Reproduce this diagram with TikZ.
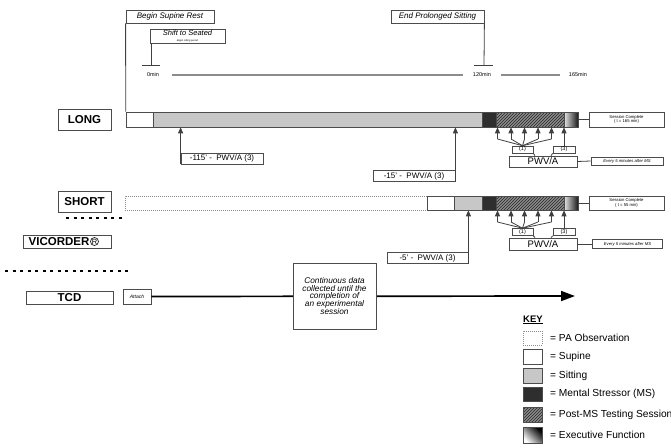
\documentclass[tikz,border=0pt]{standalone}
\usepackage{fontspec}
\setmainfont{Liberation Sans}
\usetikzlibrary{arrows.meta,patterns,shadings}
\newcommand\fsz[1]{\fontsize{#1}{#1}\selectfont}
\begin{document}
\begin{tikzpicture}[x=1pt,y=-1pt,
  bx/.style={draw=black!70, line width=0.8pt, fill=white, inner sep=0pt, align=center},
  lbl/.style={bx, font=\bfseries\fsz{11.5}},
  ital/.style={bx, font=\itshape\fsz{8}},
  pbox/.style={bx, font=\fsz{8}},
  tiny/.style={bx, line width=0.6pt, font=\fsz{4.2}},
  seg/.style={draw=black!70, line width=0.6pt, inner sep=0pt},
  supine/.style={seg, fill=white},
  sitting/.style={seg, fill=black!22},
  mstr/.style={seg, fill=black!82},
  post/.style={seg, preaction={fill=black!45}, pattern=north east lines, pattern color=black!85},
  exe/.style={seg, left color=black!10, right color=black!90},
  paobs/.style={draw=black!45, line width=0.6pt, dash pattern=on 0.7pt off 1.3pt, inner sep=0pt},
  conn/.style={draw=black!75, line width=0.8pt},
  arr/.style={conn, -{Triangle[length=6pt,width=5pt]}},
  tl/.style={draw=black!45, line width=1.5pt},
  sepl/.style={draw=black, line width=1.3pt, dash pattern=on 3pt off 4.5pt},
  keytxt/.style={anchor=west, inner sep=0pt, font=\fsz{10.2}}
]
\clip (0,0) rectangle (671,447);
\fill[white] (0,0) rectangle (671,447);

% top markers
\node[ital, minimum width=88pt, minimum height=13pt] (bsr) at (170,16.5) {Begin Supine Rest};
\node[ital, minimum width=75pt, minimum height=14pt, font=\itshape\fsz{7.5}] (sts) at (187.5,36) {Shift to Seated\\[-1.5pt]{\fsz{2.5}Begin sitting period}};
\node[ital, minimum width=93pt, minimum height=13pt] (eps) at (437.5,16.5) {End Prolonged Sitting};
\coordinate (stsT) at (151,65);
\coordinate (epsT) at (484,65);
\draw[conn] (sts.south west -| stsT) -- (stsT);
\draw[conn] ([xshift=-9pt]stsT) -- ([xshift=9pt]stsT);
\draw[conn] (eps.south east) -- (epsT);
\draw[conn] ([xshift=-10pt]epsT) -- ([xshift=9pt]epsT);

% timeline
\node[inner sep=0pt, font=\fsz{5.5}] (t0) at (153,75) {0min};
\node[inner sep=0pt, font=\fsz{5.5}] (t120) at (482,75) {120min};
\node[inner sep=0pt, font=\fsz{5.5}] (t165) at (578,75) {165min};
\draw[tl, shorten <=13pt, shorten >=10pt] (t0.east) -- (t120.west);
\draw[tl, shorten <=10pt, shorten >=9pt] (t120.east) -- (t165.west);

% LONG row
\node[lbl, minimum width=53pt, minimum height=21pt] (long) at (84.5,119.5) {LONG};
\node[supine, minimum width=27pt, minimum height=15pt] (Lsup) at (139.5,119.5) {};
\node[sitting, minimum width=329pt, minimum height=15pt] (Lsit) at (317.5,119.5) {};
\node[mstr, minimum width=14pt, minimum height=15pt] (Lms) at (489,119.5) {};
\node[post, minimum width=68pt, minimum height=15pt] (Lpost) at (530,119.5) {};
\node[exe, minimum width=14pt, minimum height=15pt] (Lexe) at (571,119.5) {};
\node[tiny, minimum width=75pt, minimum height=15pt] (Lsc) at (626.5,119.5) {Session Complete\\( t = 165 min)};
\draw[conn] (Lexe.east) -- (Lsc.west);
\draw[conn] (bsr.south west) -- (Lsup.north west);

\node[pbox, minimum width=82pt, minimum height=11pt] (p115) at (222,158.5) {-115' -\ \ PWV/A (3)};
\node[pbox, minimum width=82pt, minimum height=10.5pt] (p15) at (414,176) {-15' -\ \ PWV/A (3)};
\draw[arr] (p115.south west) -- (p115.south west |- Lsit.south);
\draw[arr] (p15.south east) -- (p15.south east |- Lsit.south);

\node[tiny, font=\fsz{5.5}, minimum width=21pt, minimum height=7pt] (L1) at (522.5,149.5) {(1)};
\node[tiny, font=\fsz{5.5}, minimum width=22pt, minimum height=7pt] (L3) at (564,149.5) {(3)};
\node[pbox, font=\fsz{9.5}, minimum width=68pt, minimum height=11pt] (LP) at (543,161.5) {PWV/A};
\node[tiny, font=\itshape\fsz{4.2}, minimum width=72pt, minimum height=8pt] (LE) at (627,161) {Every 5 minutes after MS};
\foreach \i/\x in {1/497.5,2/511,3/524.5,4/538,5/551.5}{
  \coordinate (Lb\i) at (\x,139);
  \draw[arr] (Lb\i) -- (Lb\i |- Lpost.south);
  \draw[conn] (Lb\i) -- (L1.north);
}
\draw[arr] (L3.north) -- (L3.north |- Lexe.south);
\draw[conn] (L1.south east) -- ([xshift=-8pt]LP.north);
\draw[conn] (L3.south west) -- ([xshift=8pt]LP.north);
\draw[conn] (LP.east) -- (LE.west);

% SHORT row
\node[lbl, minimum width=53pt, minimum height=21pt] (short) at (84.5,201.5) {SHORT};
\node[paobs, minimum width=302pt, minimum height=14pt] (Spa) at (276,203) {};
\node[supine, minimum width=27pt, minimum height=14pt] (Ssup) at (440.5,203) {};
\node[sitting, minimum width=28pt, minimum height=14pt] (Ssit) at (468,203) {};
\node[mstr, minimum width=14pt, minimum height=14pt] (Sms) at (489,203) {};
\node[post, minimum width=68pt, minimum height=14pt] (Spost) at (530,203) {};
\node[exe, minimum width=14pt, minimum height=14pt] (Sexe) at (571,203) {};
\node[tiny, minimum width=75pt, minimum height=14pt] (Ssc) at (626.5,203) {Session Complete\\( t = 55 min)};
\draw[conn] (Sexe.east) -- (Ssc.west);

\node[pbox, minimum width=81pt, minimum height=10.5pt] (p5) at (427.5,258) {-5' -\ \ PWV/A (3)};
\draw[arr] (p5.south east) -- (p5.south east |- Ssit.south);

\node[tiny, font=\fsz{5.5}, minimum width=21pt, minimum height=7pt] (S1) at (522.5,232) {(1)};
\node[tiny, font=\fsz{5.5}, minimum width=22pt, minimum height=7pt] (S3) at (564,232) {(3)};
\node[pbox, font=\fsz{9.5}, minimum width=68pt, minimum height=12pt] (SP) at (543,244) {PWV/A};
\node[tiny, font=\itshape\fsz{4.2}, minimum width=70pt, minimum height=9pt] (SE) at (627.5,244) {Every 5 minutes after MS};
\foreach \i/\x in {1/497.5,2/511,3/524.5,4/538,5/551.5}{
  \coordinate (Sb\i) at (\x,222);
  \draw[arr] (Sb\i) -- (Sb\i |- Spost.south);
  \draw[conn] (Sb\i) -- (S1.north);
}
\draw[arr] (S3.north) -- (S3.north |- Sexe.south);
\draw[conn] (S1.south east) -- ([xshift=-8pt]SP.north);
\draw[conn] (S3.south west) -- ([xshift=8pt]SP.north);
\draw[conn] (SP.east) -- (SE.west);

% separators
\draw[sepl] (66,218) -- (126,218);
\draw[sepl] (5,271) -- (128,271);

% VICORDER and TCD
\node[lbl, minimum width=88pt, minimum height=13pt] (vic) at (67,241.5) {};
\node[anchor=west, inner sep=0pt, font=\bfseries\fsz{11.5}] (vict) at (28.5,241.5) {VICORDER};
\node[anchor=west, circle, draw=black!85, line width=0.7pt, inner sep=0.2pt, font=\fsz{7.5}] (vicR) at ([xshift=0.5pt]vict.east) {R};
\node[lbl, minimum width=87pt, minimum height=13pt] (tcd) at (69.5,297.5) {TCD};
\node[bx, font=\itshape\fsz{5}, minimum width=28pt, minimum height=15pt] (att) at (137,296.5) {Attach};
\coordinate (tcdend) at (575,296);
\draw[draw=black, line width=1.7pt, -{Triangle[length=14pt,width=10pt]}] (att.east) -- (tcdend);
\node[ital, font=\itshape\fsz{8.3}, minimum width=83pt, minimum height=66pt] (cont) at (334.5,296)
  {Continuous data\\[-0.6pt]collected until the\\[-0.6pt]completion of\\[-0.6pt]an experimental\\[-0.6pt]session};

% KEY
\node[anchor=west, inner sep=0pt, font=\bfseries\fsz{9.5}] (key) at (523,320) {\underline{KEY}};
\node[paobs, minimum width=19pt, minimum height=14pt] (k1) at (532.5,338) {};
\node[supine, line width=0.8pt, minimum width=19pt, minimum height=15pt] (k2) at (532.5,356.5) {};
\node[sitting, line width=0.8pt, minimum width=19pt, minimum height=15pt] (k3) at (532.5,375.5) {};
\node[mstr, line width=0.8pt, minimum width=19pt, minimum height=14pt] (k4) at (532.5,394) {};
\node[post, line width=0.8pt, minimum width=19pt, minimum height=15pt] (k5) at (532.5,414.5) {};
\node[seg, line width=0.8pt, left color=black, right color=white, shading angle=-45, minimum width=19pt, minimum height=16pt] (k6) at (532.5,435) {};
\node[keytxt] (kt1) at (550,338) {= PA Observation};
\node[keytxt] (kt2) at (550,356.5) {= Supine};
\node[keytxt] (kt3) at (550,375.5) {= Sitting};
\node[keytxt] (kt4) at (550,394) {= Mental Stressor (MS)};
\node[keytxt] (kt5) at (550,414.5) {= Post-MS Testing Session};
\node[keytxt] (kt6) at (550,435) {= Executive Function};
\end{tikzpicture}
\end{document}
